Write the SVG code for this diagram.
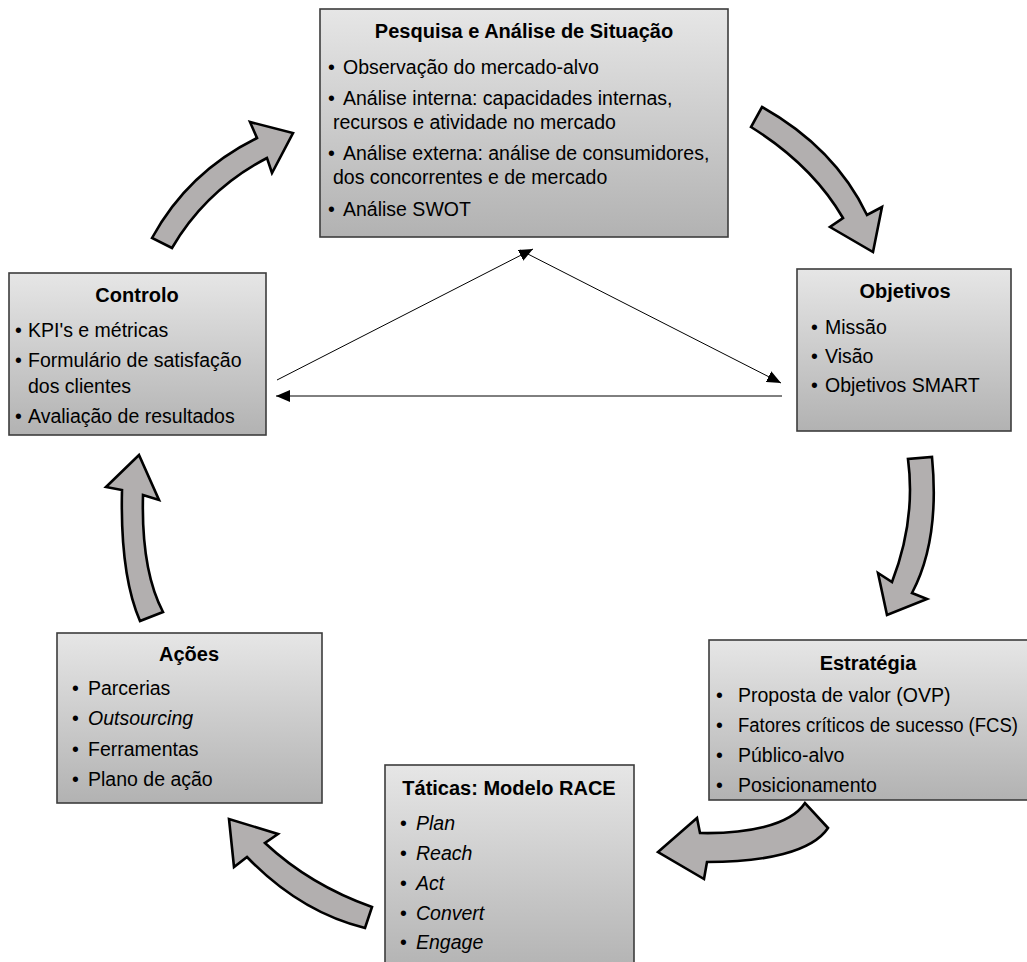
<svg xmlns="http://www.w3.org/2000/svg" width="1027" height="962" viewBox="0 0 1027 962">
  <defs>
    <linearGradient id="boxFill" x1="0" y1="0" x2="0" y2="1">
      <stop offset="0" stop-color="#e6e6e6"/>
      <stop offset="1" stop-color="#b2b2b2"/>
    </linearGradient>
    <marker id="tri" viewBox="0 0 14 12" refX="14" refY="6" markerWidth="14" markerHeight="12" orient="auto" markerUnits="userSpaceOnUse">
      <path d="M0,0 L14,6 L0,12 z" fill="#000"/>
    </marker>
  </defs>
  <style>
    .box { fill: url(#boxFill); stroke: #3c3c3c; stroke-width: 1.6; }
    .title { font-family: "Liberation Sans", Arial, sans-serif; font-weight: bold; font-size: 20px; fill: #000; text-anchor: middle; }
    .item { font-family: "Liberation Sans", Arial, sans-serif; font-size: 19.5px; fill: #000; }
    .it { font-style: italic; }
    .bigArrow { fill: #b2afaf; stroke: #000; stroke-width: 2.6; stroke-linejoin: miter; }
    .link { stroke: #000; stroke-width: 1; fill: none; marker-end: url(#tri); }
  </style>

  <rect width="1027" height="962" fill="#fff"/>

  <!-- cycle arrows between stages -->
  <g id="cycle-arrows">
    <path class="bigArrow" d="M152,238 Q188,172 257,138 L250,122 L293,133 L272,173 L267,158 Q206,190 172,248 Z"/>
    <path class="bigArrow" d="M762,107 Q835,148 867,215 L882,207 L873,252 L830,227 L843,218 Q812,165 751,127 Z"/>
    <path class="bigArrow" d="M932,457 Q940,540 912,593 L927,599 L887,615 L878,573 L892,582 Q916,520 908,459 Z"/>
    <path class="bigArrow" d="M828,828 C812,852 765,862 707,862 L704,879 L658,852 L697,818 L700,833 C745,834 790,826 805,803 Z"/>
    <path class="bigArrow" d="M365,928 Q300,912 247,857 L234,867 L229,819 L278,834 L265,843 Q310,885 372,907 Z"/>
    <path class="bigArrow" d="M163,612 Q141,570 143,495 L159,500 L139,455 L106,487 L122,490 Q120,575 140,621 Z"/>
  </g>

  <!-- feedback connectors -->
  <g id="connectors">
    <line class="link" x1="277" y1="380" x2="533" y2="249"/>
    <line class="link" x1="520" y1="250" x2="781" y2="383"/>
    <line class="link" x1="782" y1="396" x2="276" y2="396"/>
  </g>

  <g id="pesquisa">
    <rect class="box" x="320" y="9" width="408" height="228"/>
    <text class="title" x="524" y="38">Pesquisa e Análise de Situação</text>
    <text class="item" x="328" y="74">•</text>
    <text class="item" x="343" y="74">Observação do mercado-alvo</text>
    <text class="item" x="328" y="105">•</text>
    <text class="item" x="343" y="105">Análise interna: capacidades internas,</text>
    <text class="item" x="333" y="129">recursos e atividade no mercado</text>
    <text class="item" x="328" y="160">•</text>
    <text class="item" x="343" y="160">Análise externa: análise de consumidores,</text>
    <text class="item" x="333" y="184">dos concorrentes e de mercado</text>
    <text class="item" x="328" y="216">•</text>
    <text class="item" x="343" y="216">Análise SWOT</text>
  </g>

  <g id="objetivos">
    <rect class="box" x="797" y="269" width="214" height="162"/>
    <text class="title" x="905" y="298">Objetivos</text>
    <text class="item" x="811" y="334">•</text>
    <text class="item" x="825" y="334">Missão</text>
    <text class="item" x="811" y="363">•</text>
    <text class="item" x="825" y="363">Visão</text>
    <text class="item" x="811" y="392">•</text>
    <text class="item" x="825" y="392">Objetivos SMART</text>
  </g>

  <g id="estrategia">
    <rect class="box" x="709" y="640" width="386" height="160"/>
    <text class="title" x="868" y="670">Estratégia</text>
    <text class="item" x="716" y="702">•</text>
    <text class="item" x="738" y="702">Proposta de valor (OVP)</text>
    <text class="item" x="716" y="732">•</text>
    <text class="item" x="738" y="732" textLength="280" lengthAdjust="spacingAndGlyphs">Fatores críticos de sucesso (FCS)</text>
    <text class="item" x="716" y="762">•</text>
    <text class="item" x="738" y="762">Público-alvo</text>
    <text class="item" x="716" y="792">•</text>
    <text class="item" x="738" y="792">Posicionamento</text>
  </g>

  <g id="taticas">
    <rect class="box" x="385" y="765" width="249" height="210"/>
    <text class="title" x="509" y="795">Táticas: Modelo RACE</text>
    <text class="item" x="400" y="830">•</text>
    <text class="item it" x="416" y="830">Plan</text>
    <text class="item" x="400" y="860">•</text>
    <text class="item it" x="416" y="860">Reach</text>
    <text class="item" x="400" y="890">•</text>
    <text class="item it" x="416" y="890">Act</text>
    <text class="item" x="400" y="920">•</text>
    <text class="item it" x="416" y="920">Convert</text>
    <text class="item" x="400" y="949">•</text>
    <text class="item it" x="416" y="949">Engage</text>
  </g>

  <g id="acoes">
    <rect class="box" x="57" y="633" width="265" height="170"/>
    <text class="title" x="189" y="661">Ações</text>
    <text class="item" x="72" y="695">•</text>
    <text class="item" x="88" y="695">Parcerias</text>
    <text class="item" x="72" y="725">•</text>
    <text class="item it" x="88" y="725">Outsourcing</text>
    <text class="item" x="72" y="756">•</text>
    <text class="item" x="88" y="756">Ferramentas</text>
    <text class="item" x="72" y="786">•</text>
    <text class="item" x="88" y="786">Plano de ação</text>
  </g>

  <g id="controlo">
    <rect class="box" x="9" y="273" width="257" height="162"/>
    <text class="title" x="137" y="302">Controlo</text>
    <text class="item" x="15" y="337">•</text>
    <text class="item" x="28" y="337">KPI's e métricas</text>
    <text class="item" x="15" y="367">•</text>
    <text class="item" x="28" y="367">Formulário de satisfação</text>
    <text class="item" x="28" y="393">dos clientes</text>
    <text class="item" x="15" y="423">•</text>
    <text class="item" x="28" y="423">Avaliação de resultados</text>
  </g>
</svg>
